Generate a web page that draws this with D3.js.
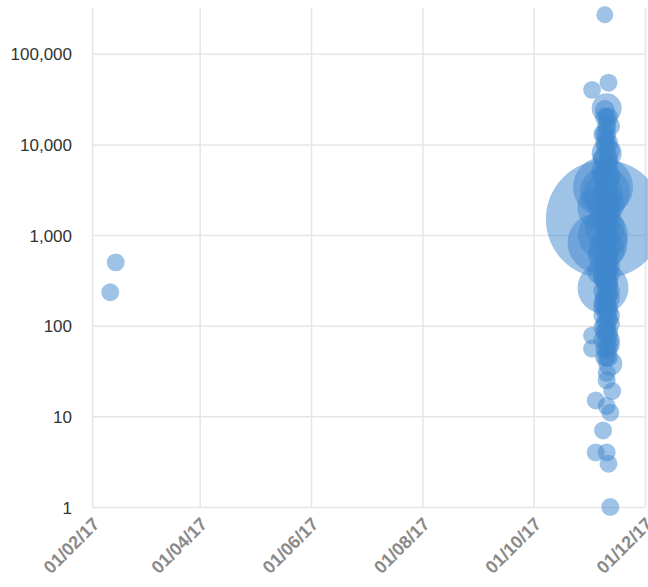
<!DOCTYPE html>
<html>
<head>
<meta charset="utf-8">
<script src="https://cdnjs.cloudflare.com/ajax/libs/d3/7.8.5/d3.min.js"></script>
<style>
    body { margin: 0; background: #fff; }
    svg { display: block; font-family: 'Liberation Sans', Arial, Helvetica, sans-serif; }
</style>
</head>
<body>
<div id="chart"></div>
<script>
'use strict';

// one entry per bubble: date, count (log y) and bubble weight (radius)
var dates = [
    // early outliers
    '2017-02-14', '2017-02-11',
    // november: isolated and large bubbles
    '2017-11-09', '2017-11-02', '2017-11-11', '2017-11-10', '2017-11-09', '2017-11-10', '2017-11-10', '2017-11-09',
    '2017-11-10', '2017-11-09', '2017-11-10', '2017-11-09', '2017-11-11', '2017-11-08', '2017-11-10', '2017-11-08',
    '2017-11-08', '2017-11-09', '2017-11-09', '2017-11-06', '2017-11-10', '2017-11-05', '2017-11-08', '2017-11-09',
    '2017-11-10', '2017-11-08', '2017-11-08', '2017-11-07', '2017-11-09', '2017-11-10', '2017-11-09', '2017-11-08',
    // november: the dense column
    '2017-11-09', '2017-11-11', '2017-11-10', '2017-11-12', '2017-11-08', '2017-11-10', '2017-11-09', '2017-11-11',
    '2017-11-10', '2017-11-12', '2017-11-08', '2017-11-11', '2017-11-09', '2017-11-10', '2017-11-08', '2017-11-12',
    '2017-11-10', '2017-11-11', '2017-11-08', '2017-11-09', '2017-11-10', '2017-11-12', '2017-11-09', '2017-11-11',
    '2017-11-08', '2017-11-10', '2017-11-11', '2017-11-12', '2017-11-09', '2017-11-10', '2017-11-08', '2017-11-11',
    '2017-11-10', '2017-11-12', '2017-11-09', '2017-11-11', '2017-11-08', '2017-11-10', '2017-11-10', '2017-11-12',
    '2017-11-09', '2017-11-11', '2017-11-08', '2017-11-10', '2017-11-10', '2017-11-12', '2017-11-09', '2017-11-11',
    '2017-11-08', '2017-11-10', '2017-11-10', '2017-11-12', '2017-11-09', '2017-11-11', '2017-11-08', '2017-11-10',
    '2017-11-10', '2017-11-11', '2017-11-09', '2017-11-11',
    '2017-11-11', '2017-11-10', '2017-11-12', '2017-11-09', '2017-11-11', '2017-11-10', '2017-11-09', '2017-11-10',
    '2017-11-12', '2017-11-09', '2017-11-10', '2017-11-12', '2017-11-09', '2017-11-10', '2017-11-12', '2017-11-09',
    '2017-11-10', '2017-11-12', '2017-11-09', '2017-11-10', '2017-11-09', '2017-11-11',
    '2017-11-11', '2017-11-11', '2017-11-11', '2017-11-08', '2017-11-11', '2017-11-11', '2017-11-08', '2017-11-11',
    '2017-11-11', '2017-11-08', '2017-11-11', '2017-11-12',
    // november: the low tail
    '2017-11-02', '2017-11-02', '2017-11-12', '2017-11-10', '2017-11-10', '2017-11-13', '2017-11-04', '2017-11-10',
    '2017-11-12', '2017-11-08', '2017-11-04', '2017-11-10', '2017-11-11', '2017-11-12'
];
var counts = [
    500, 234,

    270000, 40000, 48000, 25000, 24000, 20000, 16000, 13000,
    11000, 9500, 8000, 7000, 6000, 5000, 4500, 3400,
    2800, 3000, 1500, 2000, 2200, 820, 1000, 1200,
    700, 600, 260, 400, 350, 300, 200, 160,

    20000, 20000, 16000, 16000, 13000, 13000, 10500, 10500,
    8500, 8500, 7000, 7000, 5600, 5600, 4500, 4500,
    3700, 3700, 3000, 3000, 2400, 2400, 2000, 2000,
    1600, 1600, 1300, 1300, 1050, 1050, 850, 850,
    700, 700, 560, 560, 450, 450, 370, 370,
    300, 300, 240, 240, 200, 200, 160, 160,
    130, 130, 105, 105, 85, 85, 70, 70,
    56, 56, 45, 45,
    2400, 2000, 1600, 1300, 1050, 850, 700, 560,
    450, 370, 300, 240, 200, 160, 130, 105,
    85, 70, 56, 45, 3700, 3000,
    620, 500, 410, 330, 270, 220, 180, 145,
    118, 95, 77, 62,

    78, 56, 38, 30, 25, 19, 15, 13,
    11, 7, 4, 4, 3, 1
];
var weights = [
    112, 112,

    100, 112, 112, 312, 139, 112, 100, 139,
    112, 112, 312, 200, 139, 200, 270, 1250,
    555, 868, 4835, 672, 450, 1250, 868, 555,
    450, 312, 900, 270, 200, 170, 139, 139,

    130, 130, 130, 130, 130, 130, 130, 130,
    130, 130, 130, 130, 130, 130, 130, 130,
    130, 130, 130, 130, 130, 130, 130, 130,
    130, 130, 130, 130, 130, 130, 130, 130,
    130, 130, 130, 130, 130, 130, 130, 130,
    130, 130, 130, 130, 130, 130, 130, 130,
    130, 130, 130, 130, 130, 130, 130, 130,
    130, 130, 130, 130,
    130, 130, 130, 130, 130, 130, 130, 130,
    130, 130, 130, 130, 130, 130, 130, 130,
    130, 130, 130, 130, 130, 130,
    130, 130, 130, 130, 130, 130, 130, 130,
    130, 130, 130, 130,

    112, 112, 200, 112, 112, 112, 112, 112,
    112, 112, 112, 112, 112, 112
];

var xTicks = ['2017-02-01', '2017-04-01', '2017-06-01', '2017-08-01', '2017-10-01', '2017-12-01'];
var yTicks = [1, 10, 100, 1000, 10000, 100000];

var width = 648;
var height = 587;
var margin = { top: 8, right: 3, bottom: 80, left: 92 };

var parse = d3.timeParse('%Y-%m-%d');

var points = dates.map(function (d, i) {
    return { date: parse(d), count: counts[i], weight: weights[i] };
});

var x = d3.scaleTime()
    .domain([parse('2017-02-01'), parse('2017-12-01')])
    .range([margin.left, width - margin.right]);

var y = d3.scaleLog()
    .domain([1, 320000])
    .range([height - margin.bottom, margin.top]);

var r = d3.scaleSqrt()
    .domain([0, 5000])
    .range([0, 60]);

var svg = d3.select('#chart')
    .append('svg')
    .attr('width', width)
    .attr('height', height);

// horizontal grid + y labels
var yAxis = d3.axisLeft(y)
    .tickValues(yTicks)
    .tickSize(-(width - margin.right - margin.left))
    .tickPadding(20)
    .tickFormat(d3.format(','));

svg.append('g')
    .attr('class', 'y-axis')
    .attr('transform', 'translate(' + margin.left + ',0)')
    .call(yAxis)
    .call(function (g) {
        g.select('.domain').remove();
        g.selectAll('line').attr('stroke', '#e6e6e6').attr('stroke-width', 1.5);
        g.selectAll('text')
            .attr('fill', '#333')
            .attr('font-size', 17)
            .attr('dy', '0.36em');
    });

// vertical grid + rotated date labels
var xAxis = d3.axisBottom(x)
    .tickValues(xTicks.map(parse))
    .tickSize(-(height - margin.bottom - margin.top))
    .tickFormat(d3.timeFormat('%d/%m/%y'));

svg.append('g')
    .attr('class', 'x-axis')
    .attr('transform', 'translate(0,' + (height - margin.bottom) + ')')
    .call(xAxis)
    .call(function (g) {
        g.select('.domain').remove();
        g.selectAll('line').attr('stroke', '#e6e6e6').attr('stroke-width', 1.5);
        g.selectAll('text')
            .attr('fill', '#8a8a8a')
            .attr('font-size', 18)
            .attr('font-weight', 'bold')
            .attr('text-anchor', 'end')
            .attr('dy', null)
            .attr('transform', 'translate(6,16) rotate(-45)');
    });

// bubbles, biggest first so the small ones stay visible
svg.append('g')
    .attr('class', 'bubbles')
    .selectAll('circle')
    .data(points.slice().sort(function (a, b) { return b.weight - a.weight; }))
    .enter()
    .append('circle')
    .attr('cx', function (d) { return x(d.date); })
    .attr('cy', function (d) { return y(d.count); })
    .attr('r', function (d) { return r(d.weight); })
    .attr('fill', '#3f87cd')
    .attr('fill-opacity', 0.5);
</script>
</body>
</html>
